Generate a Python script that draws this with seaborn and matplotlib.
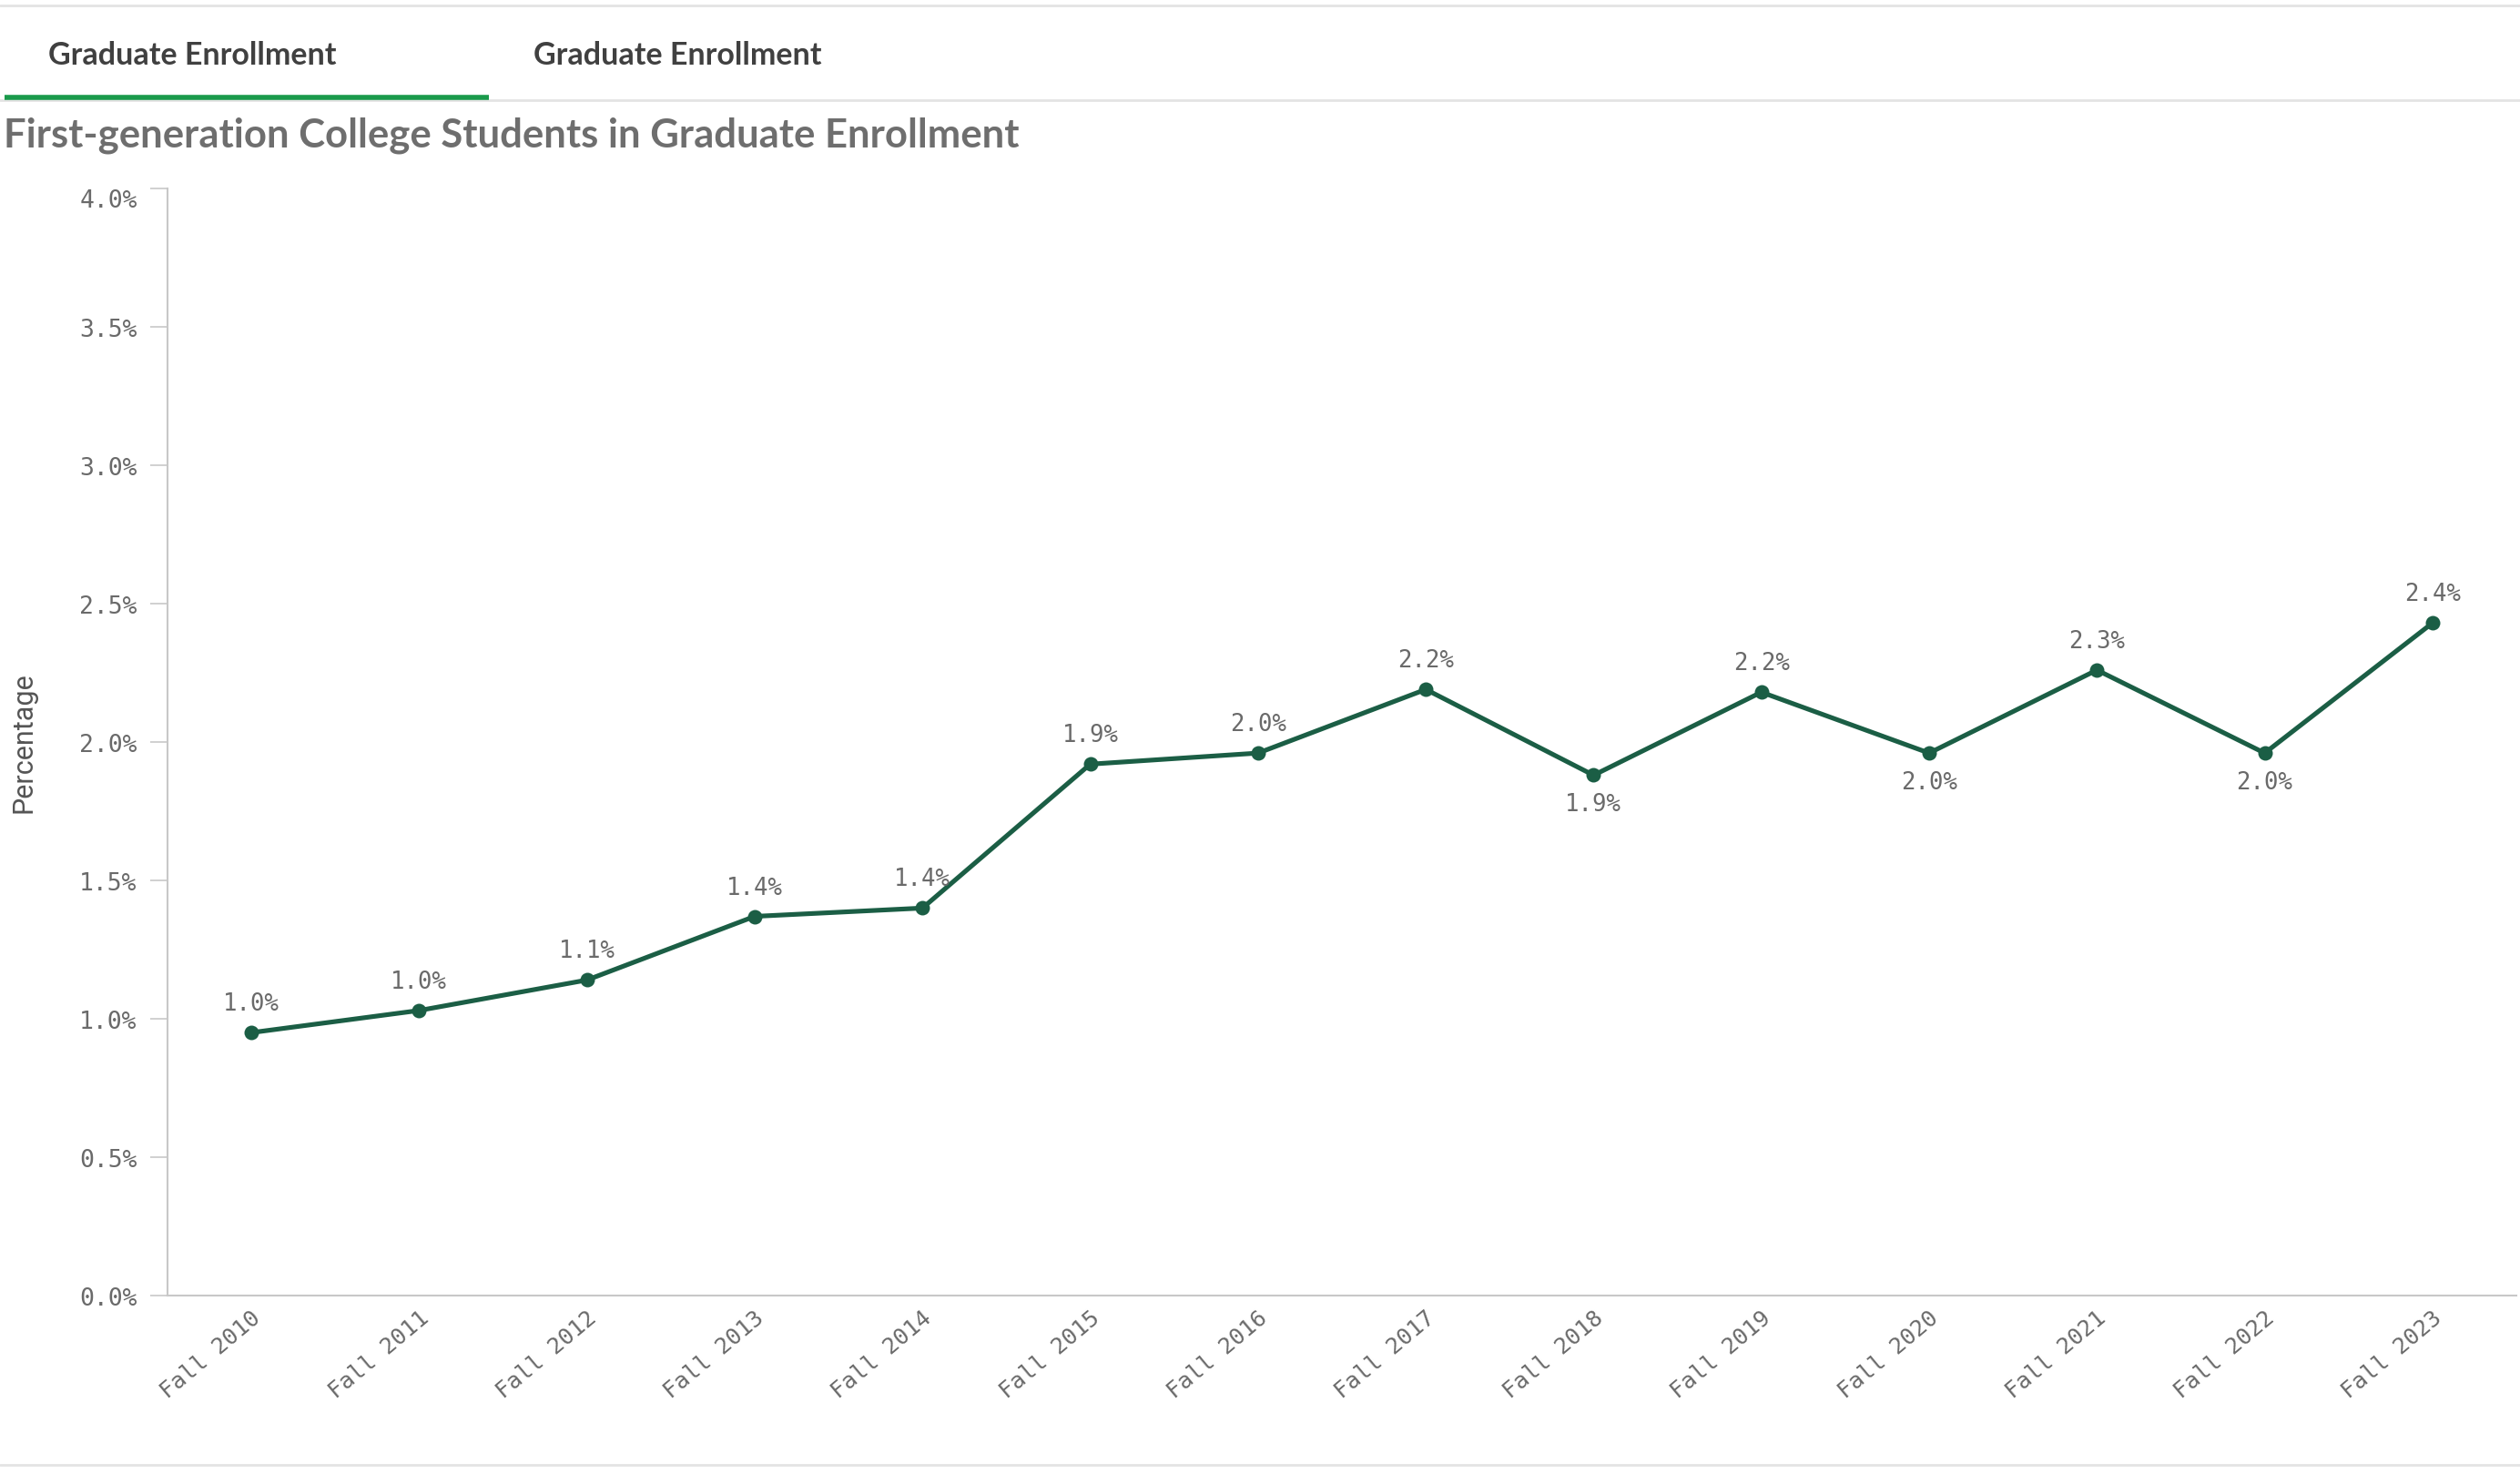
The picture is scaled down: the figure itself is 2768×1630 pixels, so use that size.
import numpy as np
import pandas as pd
import seaborn as sns
import matplotlib.pyplot as plt
import matplotlib.transforms as mtransforms
from matplotlib.lines import Line2D

terms = ["Fall 2010", "Fall 2011", "Fall 2012", "Fall 2013", "Fall 2014", "Fall 2015", "Fall 2016",
         "Fall 2017", "Fall 2018", "Fall 2019", "Fall 2020", "Fall 2021", "Fall 2022", "Fall 2023"]
pct = [0.95, 1.03, 1.14, 1.37, 1.40, 1.92, 1.96, 2.19, 1.88, 2.18, 1.96, 2.26, 1.96, 2.43]
pct_labels = ["1.0%", "1.0%", "1.1%", "1.4%", "1.4%", "1.9%", "2.0%",
              "2.2%", "1.9%", "2.2%", "2.0%", "2.3%", "2.0%", "2.4%"]
label_below = [False, False, False, False, False, False, False,
               False, True, False, True, False, True, False]
yticks = [0.0, 0.5, 1.0, 1.5, 2.0, 2.5, 3.0, 3.5, 4.0]

tab_names = ["Graduate Enrollment", "Graduate Enrollment"]
title = "First-generation College Students in Graduate Enrollment"

df = pd.DataFrame({"term": terms, "pct": pct})

sns.set_theme(style="white")
plt.rcParams['font.family'] = ['Lato', 'DejaVu Sans']

W, H = 2768, 1631
fig = plt.figure(figsize=(W / 100, H / 100), dpi=100)
ax = fig.add_axes([184 / W, 1 - 1424 / H, (2764 - 184) / W, (1424 - 208) / H])

line_col = "#1b5e45"
sns.lineplot(data=df, x="term", y="pct", ax=ax, color=line_col, linewidth=3.7,
             marker="o", markersize=11.5, markeredgewidth=0, sort=False)

mono = "DejaVu Sans Mono"
txt_col = "#6a6a6a"
for i, (v, lab, below) in enumerate(zip(pct, pct_labels, label_below)):
    off = -32 if below else 32
    ax.annotate(lab, (i, v), xytext=(0, off), textcoords="offset pixels",
                ha="center", va="center", fontsize=18.5, family=mono, color=txt_col)

ax.set_xlim(-0.5, len(terms) - 0.5)
ax.set_ylim(0, 4.0)
ax.set_yticks(yticks)
ax.set_yticklabels([f"{t:.1f}%" for t in yticks], family=mono, fontsize=19, color=txt_col)
top_lab = ax.get_yticklabels()[-1]
top_lab.set_va("top")
top_lab.set_transform(top_lab.get_transform() +
                      mtransforms.ScaledTranslation(0, -10 / 100, fig.dpi_scale_trans))
ax.tick_params(axis="y", left=True, length=14, width=1.2, color="#c8c8c8", pad=10)
ax.tick_params(axis="x", bottom=False, pad=3)
ax.set_xticks(range(len(terms)))
ax.set_xticklabels(terms, rotation=40, ha="right", va="center", rotation_mode="anchor",
                   family=mono, fontsize=18, color=txt_col)
shift = mtransforms.ScaledTranslation(7 / 100, -8 / 100, fig.dpi_scale_trans)
for lab in ax.get_xticklabels():
    lab.set_transform(lab.get_transform() + shift)

ax.set_xlabel("")
ax.set_ylabel("Percentage", fontsize=22, color="#555555", family="Roboto")
ax.yaxis.set_label_coords(-0.0555, 0.5)

for s in ["top", "right"]:
    ax.spines[s].set_visible(False)
for s in ["left", "bottom"]:
    ax.spines[s].set_color("#c8c8c8")
    ax.spines[s].set_linewidth(1.5)
ax.grid(False)

# header: tabs, underline and title
grey_line = "#e3e3e3"
fig.add_artist(Line2D([0, 1], [1 - 7 / H, 1 - 7 / H], color=grey_line, lw=2))
fig.add_artist(Line2D([0, 1], [1 - 111 / H, 1 - 111 / H], color=grey_line, lw=2))
fig.add_artist(Line2D([5 / W, 537 / W], [1 - 108 / H, 1 - 108 / H], color="#1a9a4b", lw=4,
                      solid_capstyle="butt"))
fig.add_artist(Line2D([0, 1], [1 - 1610 / H, 1 - 1610 / H], color=grey_line, lw=2))
for x0, name in zip([53, 586], tab_names):
    fig.text(x0 / W, 1 - 61 / H, name, fontsize=24.5, fontweight="bold", color="#404040",
             ha="left", va="center")
fig.text(4 / W, 1 - 149 / H, title, fontsize=31.4, fontweight="bold", color="#6e6e6e",
         ha="left", va="center")

fig.savefig("out.png", dpi=100, facecolor="white")
